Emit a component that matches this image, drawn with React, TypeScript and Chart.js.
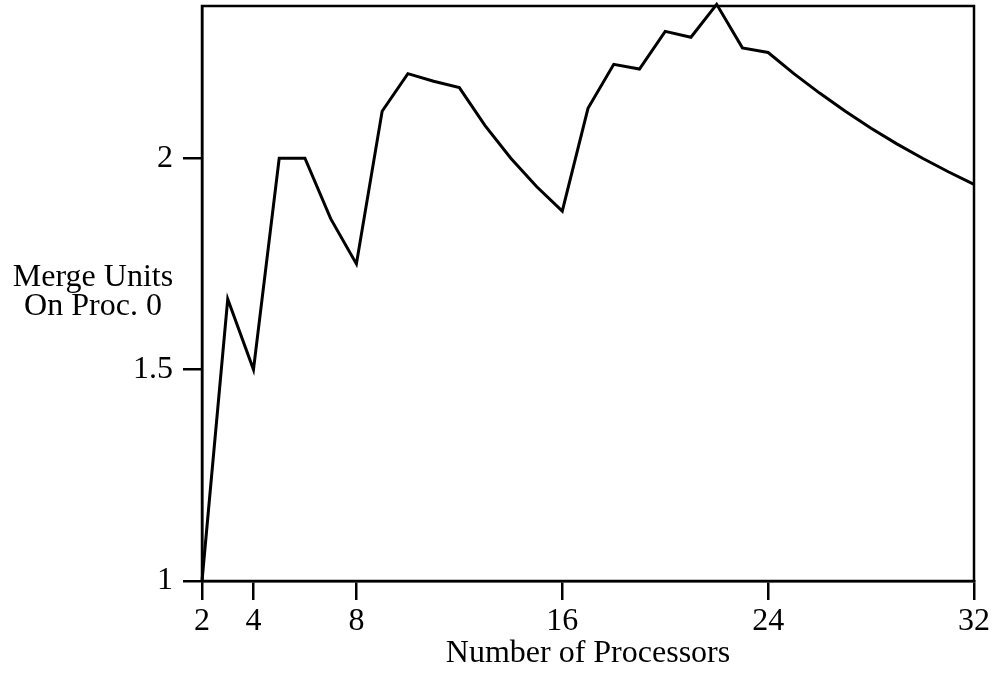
import React, { useEffect, useRef } from "react";
import { Chart, registerables } from "chart.js";

Chart.register(...registerables);

// Number of processors (x) and merge units held on processor 0 (y)
const processors = [
  2, 3, 4, 5, 6, 7, 8, 9, 10, 11, 12, 13, 14, 15, 16, 17,
  18, 19, 20, 21, 22, 23, 24, 25, 26, 27, 28, 29, 30, 31, 32,
];
const mergeUnits = [
  1.0, 1.667, 1.5, 2.0, 2.0, 1.857, 1.75, 2.111, 2.2, 2.182, 2.167, 2.077,
  2.0, 1.933, 1.875, 2.118, 2.222, 2.211, 2.3, 2.286, 2.364, 2.261, 2.25,
  2.2, 2.154, 2.111, 2.071, 2.034, 2.0, 1.968, 1.938,
];
const xTicks = [2, 4, 8, 16, 24, 32];
const yTicks = [1, 1.5, 2];
const xTitle = "Number of Processors";
const yTitleLines = ["Merge Units", "On Proc. 0"];

const FONT = "'Liberation Serif', 'Times New Roman', serif";
const FONT_SIZE = 32;

// Draws the frame around the plot and the horizontal two-line y title
const framePlugin = {
  id: "frameAndTitle",
  afterDraw(chart: any) {
    const { ctx, chartArea } = chart;
    ctx.save();
    ctx.strokeStyle = "#000";
    ctx.lineWidth = 2.5;
    ctx.strokeRect(
      chartArea.left,
      chartArea.top,
      chartArea.right - chartArea.left,
      chartArea.bottom - chartArea.top
    );
    ctx.fillStyle = "#000";
    ctx.font = `${FONT_SIZE}px ${FONT}`;
    ctx.textAlign = "center";
    ctx.textBaseline = "alphabetic";
    ctx.fillText(yTitleLines[0], 93, 286);
    ctx.fillText(yTitleLines[1], 93, 315);
    ctx.restore();
  },
};

export default function App() {
  const canvasRef = useRef<HTMLCanvasElement | null>(null);

  useEffect(() => {
    const canvas = canvasRef.current;
    if (!canvas) return;
    const points = processors.map((p, i) => ({ x: p, y: mergeUnits[i] }));
    const chart = new Chart(canvas, {
      type: "line",
      data: {
        datasets: [
          {
            data: points,
            borderColor: "#000",
            borderWidth: 3,
            pointRadius: 0,
            tension: 0,
            fill: false,
            clip: false as any,
          },
        ],
      },
      options: {
        animation: false,
        responsive: false,
        maintainAspectRatio: false,
        layout: { padding: { top: 6, right: 21, left: 0, bottom: 0 } },
        plugins: {
          legend: { display: false },
          tooltip: { enabled: false },
        },
        scales: {
          x: {
            type: "linear",
            min: 2,
            max: 32,
            afterBuildTicks: (scale: any) => {
              scale.ticks = xTicks.map((v) => ({ value: v }));
            },
            afterFit: (scale: any) => {
              scale.height = 94;
              scale.paddingLeft = 0;
              scale.paddingRight = 0;
            },
            grid: {
              display: true,
              drawOnChartArea: false,
              drawTicks: true,
              tickLength: 19,
              color: "#000",
              lineWidth: 2.5,
            },
            border: { display: true, color: "#000", width: 2.5 },
            ticks: {
              color: "#000",
              padding: 2,
              maxRotation: 0,
              autoSkip: false,
              font: { family: FONT, size: FONT_SIZE },
              callback: (v: any) => String(v),
            },
            title: {
              display: true,
              text: xTitle,
              color: "#000",
              font: { family: FONT, size: FONT_SIZE },
              padding: { top: 0, bottom: 2 },
            },
          },
          y: {
            type: "linear",
            min: 1,
            max: 2.36,
            afterBuildTicks: (scale: any) => {
              scale.ticks = yTicks.map((v) => ({ value: v }));
            },
            afterFit: (scale: any) => {
              scale.width = 202;
              scale.paddingTop = 0;
              scale.paddingBottom = 0;
            },
            grid: {
              display: true,
              drawOnChartArea: false,
              drawTicks: true,
              tickLength: 19,
              color: "#000",
              lineWidth: 2.5,
            },
            border: { display: true, color: "#000", width: 2.5 },
            ticks: {
              color: "#000",
              padding: 10,
              autoSkip: false,
              font: { family: FONT, size: FONT_SIZE },
              callback: (v: any) => String(v),
            },
          },
        },
      },
      plugins: [framePlugin],
    });
    return () => chart.destroy();
  }, []);

  return (
    <div style={{ position: "fixed", left: 0, top: 0, width: 995, height: 675, background: "#fff" }}>
      <canvas ref={canvasRef} width={995} height={675} style={{ width: 995, height: 675 }} />
    </div>
  );
}
